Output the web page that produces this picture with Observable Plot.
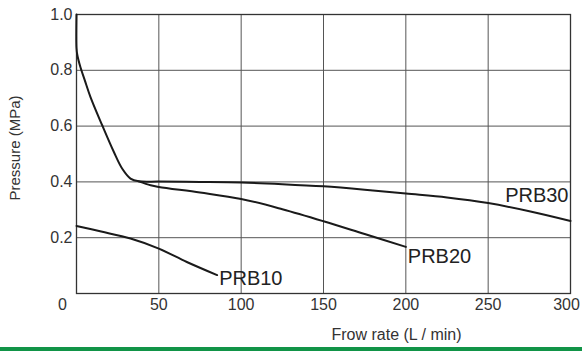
<!DOCTYPE html>
<html>
<head>
<meta charset="utf-8">
<script src="https://cdn.jsdelivr.net/npm/d3@7"></script>
<script src="https://cdn.jsdelivr.net/npm/@observablehq/plot@0.6"></script>
<style>
  html, body { margin: 0; padding: 0; background: #fff; }
  #chart { width: 582px; }
  #chart svg { overflow: visible; }
  #bar { width: 582px; height: 4px; background: #119447; }
</style>
</head>
<body>
<div id="chart"></div>
<div id="bar"></div>
<script>
// Data
const prb30Flow = [0, 0, 0.5, 2.4, 5, 8.5, 15.6, 22.7, 27.7, 32.8, 37.8, 50, 75, 100, 125, 150, 175, 200, 225, 250, 275, 300];
const prb30Pressure = [1.0, 0.88, 0.855, 0.811, 0.765, 0.704, 0.603, 0.507, 0.448, 0.412, 0.402, 0.401, 0.400, 0.398, 0.392, 0.384, 0.372, 0.358, 0.344, 0.324, 0.295, 0.26];
const prb20Flow = [37.8, 45, 50, 75, 100, 125, 150, 175, 200];
const prb20Pressure = [0.402, 0.388, 0.382, 0.362, 0.339, 0.302, 0.259, 0.213, 0.167];
const prb10Flow = [0, 15, 32.8, 50, 67, 85.4];
const prb10Pressure = [0.242, 0.222, 0.197, 0.161, 0.113, 0.066];

const seriesNames = ["PRB30", "PRB20", "PRB10"];
const labelFlow = [300, 200, 85.4];
const labelPressure = [0.350, 0.133, 0.055];
const labelAnchor = ["end", "start", "start"];

const xTicks = [50, 100, 150, 200, 250, 300];
const yTicks = [0.2, 0.4, 0.6, 0.8, 1.0];
const xTitle = "Frow rate (L / min)";
const yTitle = "Pressure (MPa)";

const rows = [
  ...prb30Flow.map((f, i) => ({series: "PRB30", flow: f, pressure: prb30Pressure[i]})),
  ...prb20Flow.map((f, i) => ({series: "PRB20", flow: f, pressure: prb20Pressure[i]})),
  ...prb10Flow.map((f, i) => ({series: "PRB10", flow: f, pressure: prb10Pressure[i]}))
];
const labels = seriesNames.map((s, i) => ({name: s, flow: labelFlow[i], pressure: labelPressure[i], anchor: labelAnchor[i]}));

const font = "'Liberation Sans', Arial, Helvetica, sans-serif";
const lastTick = xTicks[xTicks.length - 1];

const chart = Plot.plot({
  width: 582,
  height: 347,
  marginLeft: 76,
  marginRight: 12,
  marginTop: 14,
  marginBottom: 54,
  style: {fontFamily: font, color: "#333", background: "#fff", overflow: "visible"},
  x: {domain: [0, 300]},
  y: {domain: [0, 1]},
  marks: [
    Plot.gridX(xTicks.slice(0, -1), {stroke: "#555", strokeOpacity: 1, strokeWidth: 1}),
    Plot.gridY(yTicks.slice(0, -1), {stroke: "#555", strokeOpacity: 1, strokeWidth: 1}),
    Plot.frame({stroke: "#333", strokeWidth: 1.3}),
    Plot.axisX(xTicks.slice(0, -1), {tickSize: 0, tickPadding: 5, fontSize: 16, label: null, fill: "#333"}),
    Plot.axisX([lastTick], {tickSize: 0, tickPadding: 5, fontSize: 16, label: null, fill: "#333", dx: -4}),
    Plot.text([0], {x: d => d, frameAnchor: "bottom", dx: -14, dy: 5, lineAnchor: "top", text: d => String(d), fontSize: 16, fill: "#333"}),
    Plot.axisY(yTicks, {tickSize: 0, tickPadding: 4, fontSize: 16, label: null, tickFormat: d3.format(".1f"), fill: "#333"}),
    Plot.line(rows, {x: "flow", y: "pressure", z: "series", stroke: "#1a1a1a", strokeWidth: 2, curve: "catmull-rom"}),
    Plot.text(labels.filter(d => d.anchor === "end"), {x: "flow", y: "pressure", text: "name", textAnchor: "end", fontSize: 20, fill: "#222", dx: -2}),
    Plot.text(labels.filter(d => d.anchor === "start"), {x: "flow", y: "pressure", text: "name", textAnchor: "start", fontSize: 20, fill: "#222", dx: 2}),
    Plot.text([xTitle], {frameAnchor: "bottom", text: d => d, textAnchor: "middle", lineAnchor: "middle", dx: 73, dy: 41, fontSize: 16, fill: "#333"}),
    Plot.text([yTitle], {frameAnchor: "left", text: d => d, textAnchor: "middle", lineAnchor: "middle", rotate: -90, dx: -61, dy: -6, fontSize: 15, fill: "#333"})
  ]
});
document.getElementById("chart").append(chart);
</script>
</body>
</html>
